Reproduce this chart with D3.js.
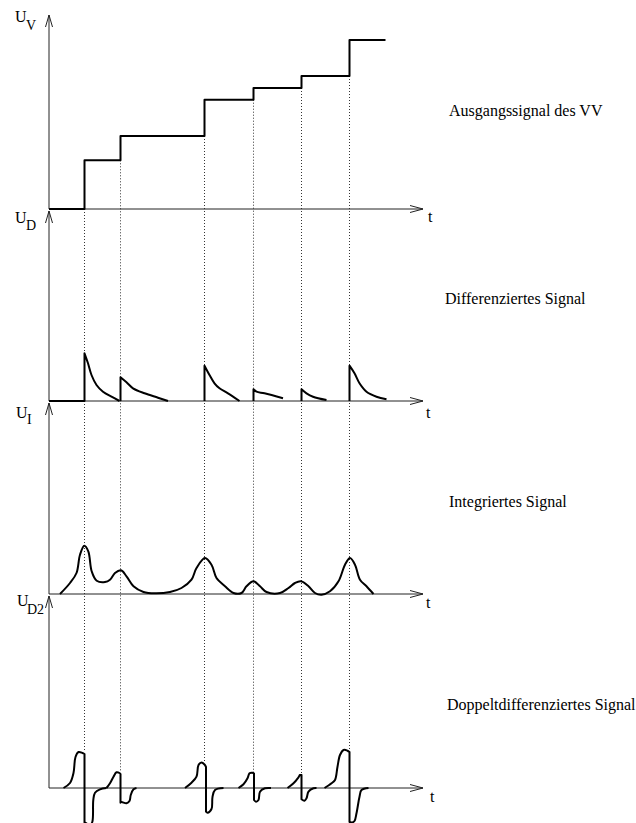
<!DOCTYPE html>
<html>
<head>
<meta charset="utf-8">
<script src="https://cdn.jsdelivr.net/npm/d3@7"></script>
<style>
  body { margin: 0; background: #fff; }
  text { font-family: "Liberation Serif", "DejaVu Serif", serif; fill: #000; }
</style>
</head>
<body>
<div id="chart"></div>
<script>
// times of the jumps of the output signal (same for all four traces)
var jumpT = [7.1, 14.3, 31.1, 40.9, 50.5, 60.1];
var stepLevel = [0, 4.87, 7.3, 10.93, 12.1, 13.3, 16.9];
var stepEnd = 67.3;

// differentiated signal: peak height and decay points per jump
var spikePeak = [4.77, 2.37, 3.53, 1.17, 1.17, 3.53];
var spikeDecay = [
  [[7.8, 3.77], [8.5, 2.6], [9.5, 1.6], [10.8, 0.93], [12.5, 0.43], [14.1, 0]],
  [[15.5, 1.87], [16.8, 1.27], [19.1, 0.77], [21.8, 0.33], [23.8, 0]],
  [[32.1, 2.6], [33.1, 1.77], [34.1, 1.27], [35.8, 0.77], [38.1, 0]],
  [[41.5, 0.93], [43.1, 0.77], [46.8, 0.27]],
  [[51.5, 0.77], [52.8, 0.43], [55.5, 0.1]],
  [[61.1, 2.77], [62.1, 1.77], [63.5, 0.93], [65.5, 0.43], [67.5, 0.17]]
];

// integrated signal
var integrated = [
  [2.2, 0], [4.2, 1.1], [5.5, 2.1], [6.2, 3.93], [7.06, 4.83], [7.86, 4.27],
  [8.54, 2.27], [9.54, 1.33], [11.2, 1.2], [12.2, 1.43], [13.2, 2.1], [14.4, 2.37],
  [15.5, 1.77], [16.9, 0.77], [18.9, 0.2], [21.2, 0.07], [24.2, 0.2], [26.5, 0.6],
  [28.5, 1.43], [29.5, 2.6], [31.2, 3.6], [32.5, 2.93], [33.5, 1.6], [35.2, 0.77],
  [36.9, 0.1], [38.5, 0.1], [39.5, 0.77], [40.9, 1.27], [42.2, 0.77], [43.5, 0.2],
  [46.2, 0.1], [47.9, 0.6], [49.2, 1.1], [50.4, 1.27], [51.9, 0.77], [53.2, 0.1],
  [54.5, -0.07], [56.2, 0.27], [57.9, 1.27], [59.2, 2.93], [60.2, 3.6], [61.2, 2.93],
  [62.2, 1.43], [63.5, 0.77], [64.9, 0]
];

// double differentiated signal: part before and after each vertical drop
var pulseRise = [
  [[2.9, 0], [4.2, 0.5], [4.9, 1.5], [5.3, 3.1], [5.9, 3.6], [6.7, 3.5], [7.1, 3.4]],
  [[11.5, 0], [12.2, 0.47], [12.9, 1.13], [13.5, 1.57], [14.1, 1.5], [14.3, 1.4]],
  [[27.2, 0], [28.5, 0.53], [29.5, 1.13], [29.9, 2.3], [30.5, 2.55], [31.1, 2.35], [31.4, 2.1]],
  [[37.9, 0], [38.9, 0.37], [39.7, 0.97], [40.1, 1.47], [40.7, 1.53], [41.0, 1.45]],
  [[47.7, 0], [48.9, 0.47], [49.9, 1.07], [50.2, 1.3], [50.5, 1.3]],
  [[55.1, 0], [56.5, 0.47], [57.2, 0.8], [57.7, 2.13], [58.2, 3.3], [58.9, 3.8], [59.7, 3.73], [60.1, 3.6]]
];
var pulseFall = [
  [[7.1, -3.45], [7.5, -3.55], [8.2, -3.7], [8.66, -3.4], [8.86, -1.2], [9.2, -0.47], [10.2, -0.13], [11.5, 0]],
  [[14.3, -1.47], [14.5, -1.4], [15.5, -1.53], [16.1, -1.3], [16.35, -0.7], [16.9, -0.13], [17.5, 0]],
  [[31.4, -2.37], [31.7, -2.47], [32.5, -2.1], [32.7, -0.9], [33.2, -0.2], [34.9, 0]],
  [[41.0, -1.2], [41.4, -1.37], [41.9, -1.2], [42.2, -0.37], [43.2, -0.03], [44.4, 0]],
  [[50.5, -1.13], [51.1, -1.27], [51.5, -1.03], [51.9, -0.37], [52.9, -0.03], [53.5, 0]],
  [[60.1, -3.4], [60.6, -3.45], [61.1, -3.3], [61.5, -2.53], [62.1, -0.87], [62.5, -0.2], [63.9, 0]]
];

var titles = ["Ausgangssignal des VV", "Differenziertes Signal", "Integriertes Signal", "Doppeltdifferenziertes Signal"];
var yNames = [["U", "V"], ["U", "D"], ["U", "I"], ["U", "D2"]];

// layout of the four stacked panels
var panels = [
  {base: 209, top: 19.4, title: [449, 116], name: [15, 22, 26, 30], t: [428, 222]},
  {base: 401, top: 19.0, title: [445, 304], name: [15, 223, 26, 230], t: [426, 418]},
  {base: 594, top: 19.1, title: [449, 507], name: [16, 418, 27, 424], t: [426, 608]},
  {base: 788, top: 19.2, title: [447, 710], name: [17, 606, 27, 614], t: [430, 802]}
];

var width = 636, height = 823;
var svg = d3.select("#chart").append("svg")
  .attr("width", width).attr("height", height)
  .style("display", "block");

var x = d3.scaleLinear().domain([0, 75]).range([49, 424]);
var tAxisEnd = 74.8;
var ys = panels.map(function (p) {
  return d3.scaleLinear().domain([0, 10]).range([p.base, p.base - 100]);
});

var lineLin = function (y) { return d3.line().x(d => x(d[0])).y(d => y(d[1])); };
var lineSmooth = function (y) {
  return d3.line().x(d => x(d[0])).y(d => y(d[1])).curve(d3.curveCatmullRom.alpha(0.5));
};

// dotted guide lines from the jump down to the last trace
var guides = svg.append("g");
jumpT.forEach(function (t, i) {
  var topY = ys[0](stepLevel[i]);
  var bottomY = ys[3](d3.max(pulseRise[i], d => d[1]));
  guides.append("line")
    .attr("x1", x(t)).attr("x2", x(t))
    .attr("y1", topY).attr("y2", bottomY)
    .attr("stroke", "#000").attr("stroke-width", 0.8)
    .attr("stroke-dasharray", "1,2");
});

// axes with open arrow heads
panels.forEach(function (p, i) {
  var y = ys[i];
  var g = svg.append("g").attr("stroke", "#222").attr("stroke-width", 1).attr("fill", "none");
  var x0 = x(0), xe = x(tAxisEnd), y0 = y(0), yt = y(p.top);
  g.append("line").attr("x1", x0).attr("x2", xe).attr("y1", y0).attr("y2", y0);
  g.append("path").attr("d", "M" + (xe - 13) + "," + (y0 - 3.5) + "L" + xe + "," + y0 + "L" + (xe - 13) + "," + (y0 + 3.5));
  g.append("line").attr("x1", x0).attr("x2", x0).attr("y1", y0).attr("y2", yt);
  g.append("path").attr("d", "M" + (x0 - 3.5) + "," + (yt + 12) + "L" + x0 + "," + yt + "L" + (x0 + 3.5) + "," + (yt + 12));

  svg.append("text").attr("x", p.title[0]).attr("y", p.title[1])
    .style("font-size", "16px").text(titles[i]);
  svg.append("text").attr("x", p.t[0]).attr("y", p.t[1])
    .style("font-size", "16px").text("t");
  svg.append("text").attr("x", p.name[0]).attr("y", p.name[1])
    .style("font-size", "16px").text(yNames[i][0]);
  svg.append("text").attr("x", p.name[2]).attr("y", p.name[3])
    .style("font-size", "14px").text(yNames[i][1]);
});

var traces = svg.append("g")
  .attr("fill", "none").attr("stroke", "#000").attr("stroke-width", 2)
  .attr("stroke-linejoin", "round");

// 1: step output signal
var steps = [[0, stepLevel[0]]];
jumpT.forEach(function (t, i) { steps.push([t, stepLevel[i + 1]]); });
steps.push([stepEnd, stepLevel[stepLevel.length - 1]]);
traces.append("path")
  .attr("d", d3.line().x(d => x(d[0])).y(d => ys[0](d[1])).curve(d3.curveStepAfter)(steps));

// 2: differentiated signal
jumpT.forEach(function (t, i) {
  var start = i === 0 ? [[0, 0], [t, 0], [t, spikePeak[i]]] : [[t, 0], [t, spikePeak[i]]];
  var d = lineLin(ys[1])(start) +
    lineSmooth(ys[1])([[t, spikePeak[i]]].concat(spikeDecay[i])).replace(/^M/, "L");
  traces.append("path").attr("d", d);
});

// 3: integrated signal
traces.append("path").attr("d", lineSmooth(ys[2])(integrated));

// 4: double differentiated signal
pulseRise.forEach(function (rise, i) {
  var d = lineSmooth(ys[3])(rise) + lineSmooth(ys[3])(pulseFall[i]).replace(/^M/, "L");
  traces.append("path").attr("d", d);
});
</script>
</body>
</html>
